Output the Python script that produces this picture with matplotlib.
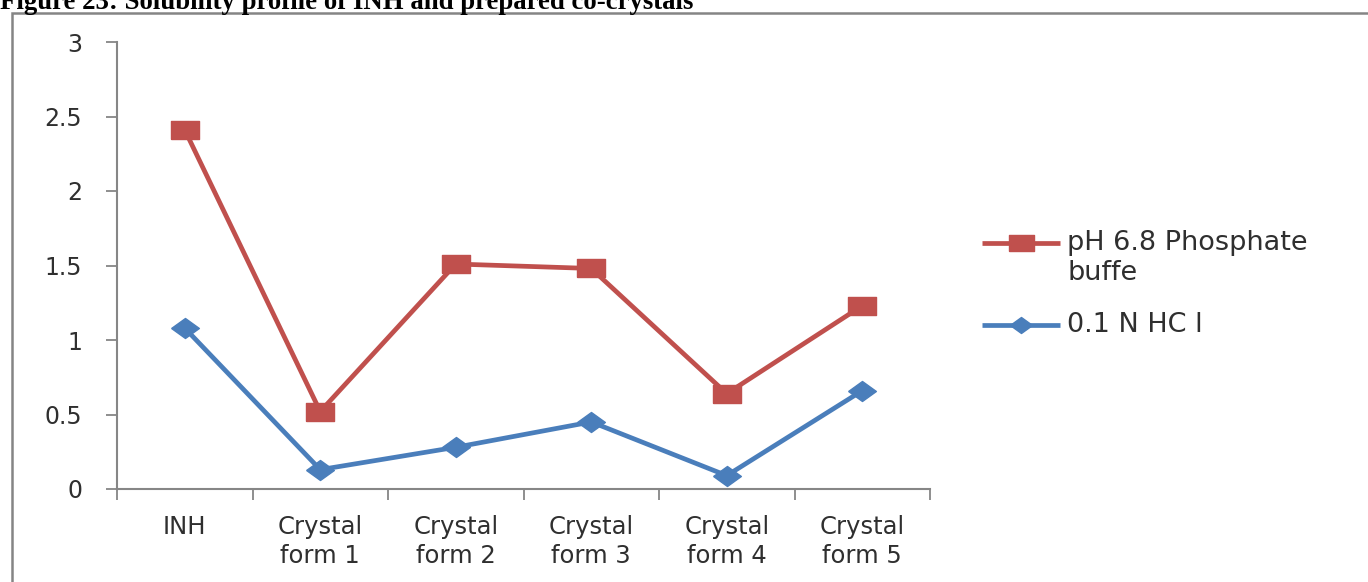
import matplotlib
matplotlib.use("Agg")
import matplotlib.pyplot as plt
from matplotlib.patches import Rectangle
from matplotlib.lines import Line2D

categories = ["INH", "Crystal\nform 1", "Crystal\nform 2", "Crystal\nform 3",
              "Crystal\nform 4", "Crystal\nform 5"]
phosphate_buffer = [2.41, 0.52, 1.51, 1.48, 0.64, 1.23]
hcl = [1.08, 0.13, 0.28, 0.45, 0.09, 0.66]
y_ticks = [0, 0.5, 1, 1.5, 2, 2.5, 3]
y_tick_labels = ["0", "0.5", "1", "1.5", "2", "2.5", "3"]
series_labels = ["pH 6.8 Phosphate\nbuffe", "0.1 N HC l"]

red = "#C0504D"
blue = "#4A7EBB"
axis_gray = "#868686"
text_color = "#2f2f2f"

# wide, flat marker shapes
wide_square = [(-1, -0.66), (1, -0.66), (1, 0.66), (-1, 0.66), (-1, -0.66)]
wide_diamond = [(-1, 0), (0, -0.72), (1, 0), (0, 0.72), (-1, 0)]

W, H = 1368, 582
fig = plt.figure(figsize=(W / 100, H / 100), dpi=100)
fig.patch.set_facecolor("white")


def fx(px):
    return px / W


def fy(py):
    return 1 - py / H


# outer chart frame (runs off the right and bottom edges)
fig.patches.append(Rectangle((fx(12), -0.2), 1.2, fy(13) + 0.2,
                             transform=fig.transFigure, fill=False,
                             edgecolor="#858585", linewidth=1.8))

fig.text(fx(0), fy(9), "Figure 23: Solubility profile of INH and prepared co-crystals",
         family="Liberation Serif", weight="bold", fontsize=19.3,
         va="baseline", ha="left")

ax = fig.add_axes([fx(117), fy(489), fx(930 - 117), (489 - 42) / H])
x = list(range(len(categories)))

ax.plot(x, phosphate_buffer, color=red, linewidth=3.4, marker=wide_square,
        markersize=20, markerfacecolor=red, markeredgecolor=red, zorder=3)
ax.plot(x, hcl, color=blue, linewidth=3.4, marker=wide_diamond, markersize=20,
        markerfacecolor=blue, markeredgecolor=blue, zorder=3)

ax.set_xlim(-0.5, len(categories) - 0.5)
ax.set_ylim(0, 3)
ax.set_yticks(y_ticks)
ax.set_yticklabels(y_tick_labels, family="DejaVu Sans", fontsize=17, color=text_color)
ax.set_xticks(x)
ax.set_xticklabels(categories, family="DejaVu Sans", fontsize=17.5, color=text_color,
                   linespacing=1.22)
ax.set_xticks([i - 0.5 for i in range(len(categories) + 1)], minor=True)
ax.tick_params(axis="x", which="major", length=0, pad=19)
ax.tick_params(axis="x", which="minor", length=8, width=1.3, color=axis_gray, direction="out")
ax.tick_params(axis="y", length=8, width=1.3, color=axis_gray, direction="out", pad=17)

for side in ("top", "right"):
    ax.spines[side].set_visible(False)
for side in ("left", "bottom"):
    ax.spines[side].set_color(axis_gray)
    ax.spines[side].set_linewidth(1.5)

# legend: handle sits level with the first line of each label
legend_rows = [(243, red, wide_square, 18), (325, blue, wide_diamond, 16)]
for (row_y, color, marker, msize), label in zip(legend_rows, series_labels):
    fig.add_artist(Line2D([fx(982), fx(1060)], [fy(row_y), fy(row_y)],
                          transform=fig.transFigure, color=color, linewidth=3.4,
                          solid_capstyle="butt"))
    fig.add_artist(Line2D([fx(1021)], [fy(row_y)], transform=fig.transFigure,
                          marker=marker, markersize=msize, color=color,
                          markeredgecolor=color, linestyle="none"))
    fig.text(fx(1067), fy(row_y - 13), label, family="DejaVu Sans", fontsize=19.5,
             color=text_color, ha="left", va="top", linespacing=1.2,
             transform=fig.transFigure)

fig.savefig("out.png", dpi=100)
